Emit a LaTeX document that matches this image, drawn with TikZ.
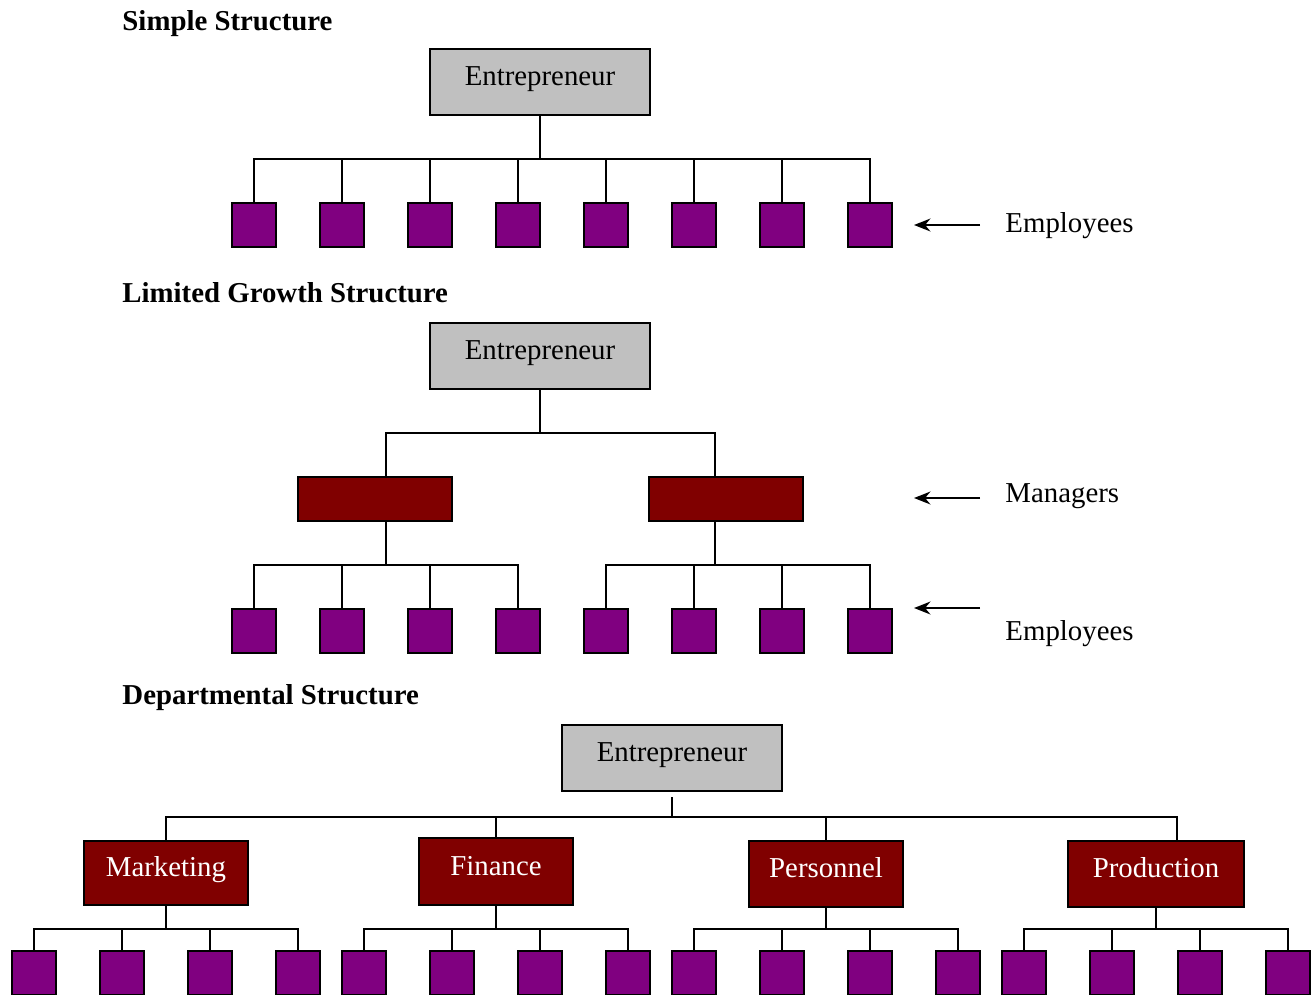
\documentclass[tikz,border=0pt]{standalone}
\usepackage{fontspec}
\setmainfont{Liberation Serif}
\usetikzlibrary{arrows.meta,positioning,calc}
\definecolor{BossGray}{RGB}{192,192,192}
\definecolor{StaffPurple}{RGB}{128,0,128}
\definecolor{DeptMaroon}{RGB}{128,0,0}
\tikzset{
  boss/.style={draw=black,line width=0.9pt,fill=BossGray,minimum width=3.3cm,minimum height=0.99cm,inner sep=0pt,font=\fontsize{12.3}{14}\selectfont,text height=8.5pt,text depth=5.5pt},
  staff/.style={draw=black,line width=0.9pt,fill=StaffPurple,minimum width=0.66cm,minimum height=0.66cm,inner sep=0pt},
  manager/.style={draw=black,line width=0.9pt,fill=DeptMaroon,minimum width=2.31cm,minimum height=0.66cm,inner sep=0pt},
  dept/.style={draw=black,line width=0.9pt,fill=DeptMaroon,text=white,minimum height=0.98cm,inner sep=0pt,font=\fontsize{12.3}{14}\selectfont,text height=8.5pt,text depth=5.5pt},
  title/.style={anchor=base west,inner sep=0pt,font=\bfseries\fontsize{12.3}{14}\selectfont},
  tag/.style={anchor=base west,inner sep=0pt,font=\fontsize{12.3}{14}\selectfont},
  link/.style={draw=black,line width=0.7pt},
  pointer/.style={-{Stealth[length=7pt,width=5.5pt]},draw=black,line width=0.85pt}
}
\begin{document}
\begin{tikzpicture}[x=0.015cm,y=-0.015cm]
\useasboundingbox (0,0) rectangle (1312,994);

% simple structure
\node[title] (t1) at (122,30) {Simple Structure};
\node[boss] (ent1) at (540,82) {Entrepreneur};
\coordinate (j1) at (540,159);
\draw[link] (ent1.south) -- (j1);
\foreach \x [count=\i] in {254,342,...,870}{
  \node[staff] (e1-\i) at (\x,225) {};
  \draw[link] (j1) -| (e1-\i.north);
}
\node[tag] (lab1) at (1005,232) {Employees};
\coordinate (a1) at (980,225);
\coordinate (h1) at (914,225);
\draw[pointer] (a1) -- (h1);

% limited growth structure
\node[title] (t2) at (122,302) {Limited Growth Structure};
\node[boss] (ent2) at (540,356) {Entrepreneur};
\coordinate (j2) at (540,433);
\node[manager] (m1) at (375,499) {};
\node[manager] (m2) at (726,499) {};
\draw[link] (ent2.south) -- (j2);
\draw[link] (j2) -| ($(m1.north)+(11,0)$);
\draw[link] (j2) -| ($(m2.north)+(-11,0)$);
\coordinate (j3) at (386,565);
\coordinate (j4) at (715,565);
\draw[link] ($(m1.south)+(11,0)$) -- (j3);
\draw[link] ($(m2.south)+(-11,0)$) -- (j4);
\foreach \x [count=\i] in {254,342,430,518}{
  \node[staff] (e2-\i) at (\x,631) {};
  \draw[link] (j3) -| (e2-\i.north);
}
\foreach \x [count=\i from 5] in {606,694,782,870}{
  \node[staff] (e2-\i) at (\x,631) {};
  \draw[link] (j4) -| (e2-\i.north);
}
\node[tag] (lab2) at (1005,502) {Managers};
\node[tag] (lab3) at (1005,640) {Employees};
\coordinate (a2) at (980,498);
\coordinate (h2) at (914,498);
\coordinate (a3) at (980,608);
\coordinate (h3) at (914,608);
\draw[pointer] (a2) -- (h2);
\draw[pointer] (a3) -- (h3);

% departmental structure
\node[title] (t3) at (122,704) {Departmental Structure};
\node[boss] (ent3) at (672,758) {Entrepreneur};
\coordinate (j5) at (672,817);
\draw[link,shorten <=0.075cm] (ent3.south) -- (j5);
\node[dept,minimum width=2.46cm,minimum height=0.96cm] (d1) at (166,873) {Marketing};
\node[dept,minimum width=2.31cm,minimum height=1.0cm] (d2) at (496,871.5) {Finance};
\node[dept,minimum width=2.31cm] (d3) at (826,874) {Personnel};
\node[dept,minimum width=2.64cm] (d4) at (1156,874) {Production};
\draw[link] (j5) -| (d1.north);
\draw[link] (j5) -| (d2.north);
\draw[link] (j5) -| (d3.north);
\draw[link] (j5) -| ($(d4.north)+(21,0)$);
\foreach \d/\c in {1/166,2/496,3/826,4/1156}{
  \coordinate (k\d) at (\c,929);
  \draw[link] (d\d.south) -- (k\d);
  \foreach \o [count=\i] in {-132,-44,44,132}{
    \node[staff] (e3-\d-\i) at (\c+\o,973) {};
    \draw[link] (k\d) -| (e3-\d-\i.north);
  }
}
\end{tikzpicture}
\end{document}
